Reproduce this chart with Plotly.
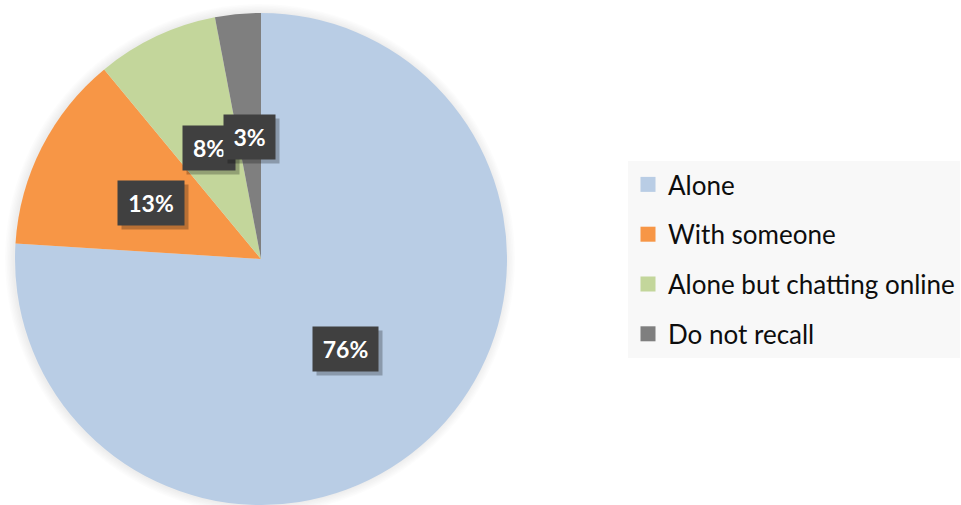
import math
import plotly.graph_objects as go

# Where respondents were during the activity (share of answers, %)
categories = ["Alone", "With someone", "Alone but chatting online", "Do not recall"]
shares = [76, 13, 8, 3]
label_texts = ["76%", "13%", "8%", "3%"]
colors = ["#B9CDE5", "#F79646", "#C3D69B", "#7F7F7F"]

W, H = 961, 505
r = 246
cx, cy = 261, H - r  # pie centre / radius in pixels

fig = go.Figure()

fig.add_trace(go.Pie(
    labels=categories,
    values=shares,
    marker=dict(colors=colors, line=dict(width=0)),
    sort=False,
    direction="clockwise",
    rotation=0,
    textinfo="none",
    hoverinfo="label+percent",
    showlegend=False,
    domain=dict(x=[(cx - r) / W, (cx + r) / W], y=[0, 2 * r / H]),
))

# legend entries (one group per category so the rows can be spaced out)
for name, col in zip(categories, colors):
    fig.add_trace(go.Scatter(
        x=[None], y=[None], mode="markers", name=name, legendgroup=name,
        marker=dict(symbol="square", size=15, color=col),
    ))

# soft shadow ring around the pie
shapes = []
for i in range(1, 7):
    rr = r + i * 1.5
    shapes.append(dict(
        type="circle", xref="paper", yref="paper", layer="below",
        x0=(cx - rr - 1) / W, x1=(cx + rr - 1) / W,
        y0=1 - (cy + rr) / H, y1=1 - (cy - rr) / H,
        fillcolor="rgba(0,0,0,0.012)", line=dict(width=0),
    ))

# data labels in dark boxes, placed halfway out along each slice's mid-angle
box_w = {"76%": 63, "13%": 64, "8%": 50, "3%": 49}
annotations = []
total = sum(shares)
acc = 0
for val, txt in zip(shares, label_texts):
    mid = (acc + val / 2) / total * 2 * math.pi
    acc += val
    px = cx + 0.5 * r * math.sin(mid)
    py = cy - 0.5 * r * math.cos(mid)
    common = dict(xref="paper", yref="paper", x=px / W, y=1 - py / H,
                  showarrow=False, width=box_w[txt], height=42,
                  xanchor="center", yanchor="middle")
    annotations.append(dict(common, text="", bgcolor="rgba(0,0,0,0.25)",
                            xshift=4, yshift=-4))
    annotations.append(dict(common, text="<b>%s</b>" % txt, bgcolor="#404040",
                            font=dict(family="Lato, Open Sans, sans-serif",
                                      size=23, color="white")))

fig.update_layout(
    width=W, height=H,
    margin=dict(l=0, r=0, t=0, b=0),
    paper_bgcolor="white", plot_bgcolor="white",
    xaxis=dict(visible=False), yaxis=dict(visible=False),
    shapes=shapes,
    annotations=annotations,
    legend=dict(
        x=628 / W, y=1 - 259.5 / H, xanchor="left", yanchor="middle",
        bgcolor="#F8F8F8", borderwidth=0,
        font=dict(family="Lato, Open Sans, sans-serif", size=26, color="#0D0D0D"),
        traceorder="grouped", tracegroupgap=13,
        itemclick=False, itemdoubleclick=False,
    ),
)

fig.write_html("out.html")
